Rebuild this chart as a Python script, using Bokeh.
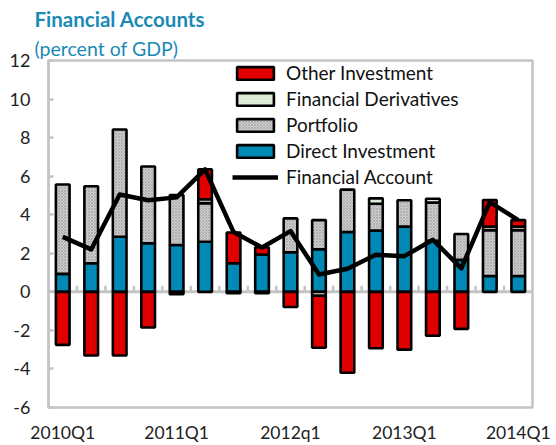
import numpy as np
from bokeh.plotting import figure
from bokeh.models import (ColumnDataSource, FixedTicker, Range1d, Title, Legend, LegendItem)
from bokeh.embed import file_html
from bokeh.resources import INLINE

quarters = ["2010Q1", "2010Q2", "2010Q3", "2010Q4", "2011Q1", "2011Q2", "2011Q3", "2011Q4",
            "2012q1", "2012Q2", "2012Q3", "2012Q4", "2013Q1", "2013Q2", "2013Q3", "2013Q4", "2014Q1"]
tick_labels = {0: "2010Q1", 4: "2011Q1", 8: "2012q1", 12: "2013Q1", 16: "2014Q1"}
y_ticks = [-6, -4, -2, 0, 2, 4, 6, 8, 10, 12]

direct_investment = [0.93, 1.48, 2.86, 2.52, 2.43, 2.60, 1.48, 1.93, 2.05, 2.21, 3.10, 3.18, 3.38, 2.65, 1.66, 0.82, 0.82]
portfolio = [4.64, 4.00, 5.56, 3.98, 2.59, 2.00, -0.07, -0.07, 1.76, 1.51, 2.20, 1.39, 1.37, 1.98, 1.34, 2.38, 2.38]
financial_derivatives = [0, 0, 0, 0, 0, 0.20, 0, 0, 0, -0.20, 0, 0.28, 0, 0.20, 0, 0.18, 0.18]
other_investment = [-2.75, -3.30, -3.30, -1.85, -0.12, 1.55, 1.60, 0.38, -0.79, -2.70, -4.20, -2.93, -3.00, -2.28, -1.92, 1.38, 0.34]
financial_account = [2.85, 2.20, 5.05, 4.75, 4.90, 6.35, 3.10, 2.30, 3.15, 0.90, 1.20, 1.92, 1.85, 2.70, 1.22, 4.65, 3.72]

BLUE_TXT = "#1a8ab5"
FONT = "Lato"

p = figure(width=556, height=445, output_backend="svg", toolbar_location=None,
           x_range=Range1d(-0.5, 16.5), y_range=Range1d(-6, 12),
           min_border_left=48, min_border_right=24, min_border_top=60, min_border_bottom=38)
p.grid.visible = False
p.outline_line_color = "#c4c4c4"
p.outline_line_width = 2.5
p.background_fill_color = "white"
p.border_fill_color = "white"

# y axis
ya = p.yaxis[0]
ya.ticker = FixedTicker(ticks=y_ticks)
ya.major_label_overrides = {t: str(t) for t in y_ticks}
ya.axis_line_color = "#c4c4c4"
ya.axis_line_width = 2.5
ya.major_tick_in = 5
ya.major_tick_out = 0
ya.major_tick_line_color = "#c4c4c4"
ya.major_tick_line_width = 2.5
ya.minor_tick_line_color = None
ya.major_label_text_font = FONT
ya.major_label_text_font_size = "18px"
ya.major_label_text_color = "#222222"
ya.major_label_standoff = 18

# x axis (labels only)
xa = p.xaxis[0]
xa.ticker = FixedTicker(ticks=list(tick_labels.keys()))
xa.major_label_overrides = tick_labels
xa.axis_line_color = None
xa.major_tick_line_color = None
xa.minor_tick_line_color = None
xa.major_label_text_font = FONT
xa.major_label_text_font_size = "17.5px"
xa.major_label_text_color = "#222222"
xa.major_label_standoff = 8

x = np.arange(len(quarters))

# zero line with boundary ticks
p.segment(x0=[-0.5], y0=[0], x1=[16.5], y1=[0], line_color="#c4c4c4", line_width=3)
p.ray(x=x[:-1] + 0.5, y=np.zeros(len(x) - 1), length=6, length_units="screen",
      angle=np.pi / 2, line_color="#c4c4c4", line_width=2.5)

series = [
    ("Direct Investment", direct_investment, dict(fill_color="#0089b4")),
    ("Portfolio", portfolio, dict(fill_color="#cfcfcf", hatch_pattern="x", hatch_color="#9a9a9a",
                                  hatch_scale=3, hatch_weight=0.6)),
    ("Financial Derivatives", financial_derivatives, dict(fill_color="#e8f3e2", hatch_pattern="/",
                                                          hatch_color="#c5dcc0", hatch_scale=3, hatch_weight=0.6)),
    ("Other Investment", other_investment, dict(fill_color="#e00000")),
]

pos = np.zeros(len(x))
neg = np.zeros(len(x))
renderers = {}
for name, vals, style in series:
    v = np.array(vals, dtype=float)
    bottom = np.where(v >= 0, pos, neg)
    top = bottom + v
    pos = np.where(v > 0, top, pos)
    neg = np.where(v < 0, top, neg)
    m = v != 0
    src = ColumnDataSource(dict(x=x[m], bottom=bottom[m], top=top[m]))
    r = p.vbar(x="x", bottom="bottom", top="top", width=0.48, source=src,
               line_color="#000000", line_width=2.6, **style)
    renderers[name] = r

line_r = p.line(x, financial_account, line_color="#000000", line_width=4.5, line_join="round")

legend = Legend(items=[
    LegendItem(label="Other Investment", renderers=[renderers["Other Investment"]]),
    LegendItem(label="Financial Derivatives", renderers=[renderers["Financial Derivatives"]]),
    LegendItem(label="Portfolio", renderers=[renderers["Portfolio"]]),
    LegendItem(label="Direct Investment", renderers=[renderers["Direct Investment"]]),
    LegendItem(label="Financial Account", renderers=[line_r]),
], location=(184, 219))
legend.background_fill_alpha = 0
legend.border_line_color = None
legend.glyph_width = 46
legend.glyph_height = 16
legend.label_height = 20
legend.spacing = 3
legend.padding = 4
legend.margin = 0
legend.label_standoff = 8
legend.label_text_font = FONT
legend.label_text_font_size = "19px"
legend.label_text_color = "#111111"
p.add_layout(legend, "center")

t2 = Title(text="(percent of GDP)", align="left", offset=-14, text_font=FONT,
           text_font_size="19.5px", text_font_style="normal", text_color=BLUE_TXT, standoff=2)
t1 = Title(text="Financial Accounts", align="left", offset=-14, text_font=FONT,
           text_font_size="20.5px", text_font_style="bold", text_color=BLUE_TXT, standoff=6)
p.add_layout(t2, "above")
p.add_layout(t1, "above")

open("out.html", "w").write(file_html(p, INLINE))
